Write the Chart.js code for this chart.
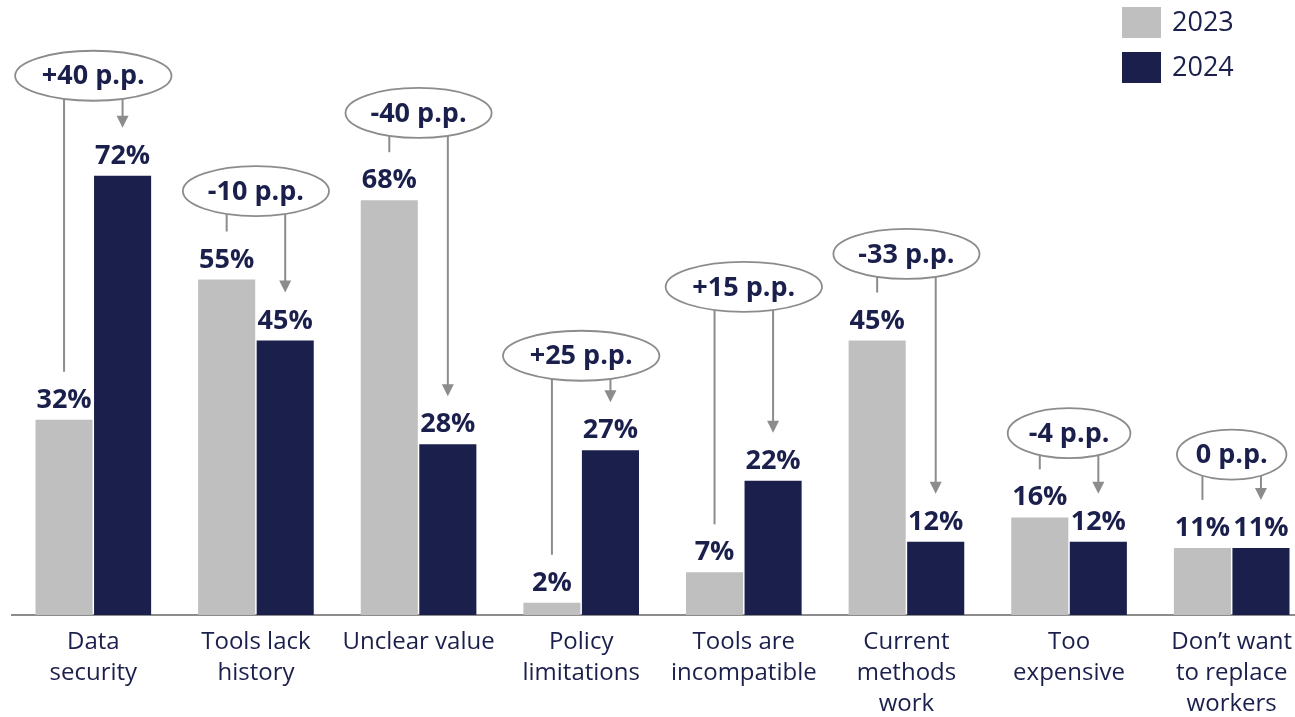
<!DOCTYPE html>
<html>
<head>
<meta charset="utf-8">
<script src="https://cdn.jsdelivr.net/npm/chart.js@4/dist/chart.umd.min.js"></script>
<style>
  html, body { margin: 0; padding: 0; overflow: hidden; background: #fff; }
  #wrap { width: 1320px; height: 717px; }
</style>
</head>
<body>
<div id="wrap"><canvas id="chart" width="1320" height="717"></canvas></div>
<script>
const categories = [
  ['Data', 'security'],
  ['Tools lack', 'history'],
  'Unclear value',
  ['Policy', 'limitations'],
  ['Tools are', 'incompatible'],
  ['Current', 'methods', 'work'],
  ['Too', 'expensive'],
  ['Don\u2019t want', 'to replace', 'workers'],
];
const years = ['2023', '2024'];
const values2023 = [32, 55, 68, 2, 7, 45, 16, 11];
const values2024 = [72, 45, 28, 27, 22, 12, 12, 11];

const NAVY = '#1b1f4b';
const GREY = '#bfbfbf';
const LINE = '#8c8c8c';
const FONT = '"Open Sans", "DejaVu Sans", sans-serif';

// value labels, change bubbles with connectors, and the legend
const changeBubbles = {
  id: 'changeBubbles',
  afterDatasetsDraw(chart, args, opts) {
    const ctx = chart.ctx;
    const y = chart.scales.y;
    const m0 = chart.getDatasetMeta(0).data;
    const m1 = chart.getDatasetMeta(1).data;
    const d0 = chart.data.datasets[0].data;
    const d1 = chart.data.datasets[1].data;

    ctx.save();
    // percent labels over each bar
    ctx.fillStyle = NAVY;
    ctx.font = 'bold 27px ' + FONT;
    ctx.textAlign = 'center';
    ctx.textBaseline = 'alphabetic';
    [[m0, d0], [m1, d1]].forEach(([bars, vals]) => {
      bars.forEach((b, i) => ctx.fillText(vals[i] + '%', b.x, b.y - 12));
    });

    // bubbles with change in percentage points
    ctx.font = 'bold 27px ' + FONT;
    d0.forEach((v0, i) => {
      const diff = d1[i] - v0;
      const txt = (diff > 0 ? '+' : '') + diff + ' p.p.';
      const cx = (m0[i].x + m1[i].x) / 2;
      const cy = y.getPixelForValue(opts.levels[i]);
      const a = ctx.measureText(txt).width * 0.76;
      const b = 25;

      const edge = (x) => {
        const dx = (x - cx) / a;
        return cy + b * Math.sqrt(Math.max(0, 1 - dx * dx));
      };

      ctx.strokeStyle = LINE;
      ctx.fillStyle = LINE;
      ctx.lineWidth = 2;

      // plain connector down to the 2023 label
      const xl = m0[i].x;
      ctx.beginPath();
      ctx.moveTo(xl, edge(xl));
      ctx.lineTo(xl, m0[i].y - 48);
      ctx.stroke();

      // arrow down to the 2024 label
      const xr = m1[i].x;
      const tip = m1[i].y - 48;
      ctx.beginPath();
      ctx.moveTo(xr, edge(xr));
      ctx.lineTo(xr, tip - 10);
      ctx.stroke();
      ctx.beginPath();
      ctx.moveTo(xr - 6, tip - 12);
      ctx.lineTo(xr + 6, tip - 12);
      ctx.lineTo(xr, tip);
      ctx.closePath();
      ctx.fill();

      ctx.beginPath();
      ctx.ellipse(cx, cy, a, b, 0, 0, Math.PI * 2);
      ctx.fillStyle = '#fff';
      ctx.fill();
      ctx.lineWidth = 1.8;
      ctx.strokeStyle = LINE;
      ctx.stroke();

      ctx.fillStyle = NAVY;
      ctx.textBaseline = 'middle';
      ctx.fillText(txt, cx, cy + 1);
      ctx.textBaseline = 'alphabetic';
    });

    // legend in the top right corner
    ctx.textAlign = 'left';
    ctx.textBaseline = 'middle';
    ctx.font = '27px ' + FONT;
    chart.data.datasets.forEach((ds, k) => {
      const top = 7 + k * 45;
      ctx.fillStyle = ds.backgroundColor;
      ctx.fillRect(1122, top, 39, 31);
      ctx.fillStyle = NAVY;
      ctx.fillText(ds.label, 1172, top + 16);
    });
    ctx.restore();
  }
};

new Chart(document.getElementById('chart'), {
  type: 'bar',
  data: {
    labels: categories,
    datasets: [
      { label: years[0], data: values2023, backgroundColor: GREY },
      { label: years[1], data: values2024, backgroundColor: NAVY },
    ]
  },
  options: {
    responsive: false,
    devicePixelRatio: 1,
    animation: false,
    layout: { padding: { top: 5, left: 12, right: 7, bottom: 0 } },
    datasets: { bar: { categoryPercentage: 0.72, barPercentage: 0.975 } },
    plugins: {
      legend: { display: false },
      tooltip: { enabled: false },
      changeBubbles: { levels: [88.4, 69.5, 82.3, 42.5, 53.8, 59.2, 29.8, 26.3] }
    },
    scales: {
      y: { display: false, min: 0, max: 100 },
      x: {
        grid: { display: false, drawTicks: false },
        border: { display: true, color: LINE, width: 2 },
        ticks: {
          color: NAVY,
          padding: 12,
          maxRotation: 0,
          autoSkip: false,
          font: { family: FONT, size: 24, lineHeight: 1.29 }
        },
        afterFit(scale) { scale.height = 102; }
      }
    }
  },
  plugins: [changeBubbles]
});
</script>
</body>
</html>
